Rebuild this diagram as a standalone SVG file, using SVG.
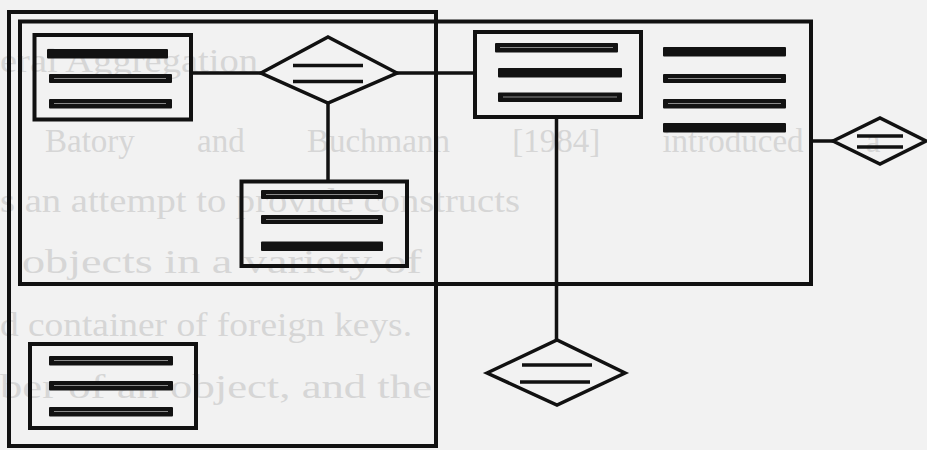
<svg xmlns="http://www.w3.org/2000/svg" width="927" height="450" viewBox="0 0 927 450">
<style>
.frame{fill:none;stroke:#111;stroke-width:4}
.box{fill:none;stroke:#111;stroke-width:4}
.dia{fill:none;stroke:#111;stroke-width:3.5;stroke-linejoin:miter}
.conn{fill:none;stroke:#111;stroke-width:3.5}
.bar{fill:#121212}
.streak{fill:none;stroke:#8a8a8a;stroke-width:1}
.dl{stroke:#111;stroke-width:3.5}
.ghost{font-family:"Liberation Serif","Times New Roman",serif;font-size:33px;fill:#d6d6d6}
</style>
<rect x="0" y="0" width="927" height="450" fill="#f2f2f2"/>
<g id="ghost-text">
<text class="ghost" x="0" y="72" textLength="258" lengthAdjust="spacingAndGlyphs">eral Aggregation</text>
<text class="ghost" x="45" y="152" word-spacing="54">Batory and Buchmann [1984] introduced a</text>
<text class="ghost" x="0" y="212" textLength="520" lengthAdjust="spacingAndGlyphs">s an attempt to provide constructs</text>
<text class="ghost" x="22" y="273" textLength="400" lengthAdjust="spacingAndGlyphs">objects in a variety of</text>
<text class="ghost" x="0" y="336" textLength="412" lengthAdjust="spacingAndGlyphs">d container of foreign keys.</text>
<text class="ghost" x="0" y="398" textLength="432" lengthAdjust="spacingAndGlyphs">ber of an object, and the</text>
</g>
<g id="frames">
<rect class="frame" x="9" y="12" width="427" height="434"/>
<rect class="frame" x="20" y="21.5" width="791" height="262.5"/>
</g>
<g id="connectors">
<line class="conn" x1="191" y1="73" x2="261" y2="73"/>
<line class="conn" x1="397" y1="73" x2="475" y2="73"/>
<line class="conn" x1="328" y1="103" x2="328" y2="181.5"/>
<line class="conn" x1="811" y1="141" x2="833" y2="141"/>
<line class="conn" x1="556.5" y1="117" x2="556.5" y2="340"/>
</g>
<g id="entity1">
<rect class="box" x="34.5" y="35" width="156.5" height="84.5"/>
<rect class="bar" x="47" y="49" width="121" height="9.5" rx="1"/>
<rect class="bar" x="49" y="74" width="123" height="9" rx="1"/>
<line class="streak" x1="54" y1="78.5" x2="166" y2="78.5"/>
<rect class="bar" x="49" y="99" width="123" height="9.5" rx="1"/>
<line class="streak" x1="54" y1="103.5" x2="166" y2="103.5"/>
</g>
<g id="relationship1">
<polygon class="dia" points="261,73 328,37 397,73 328,103"/>
<line class="dl" x1="293" y1="65.5" x2="363" y2="65.5"/>
<line class="dl" x1="293" y1="81.5" x2="363" y2="81.5"/>
</g>
<g id="entity2">
<rect class="box" x="475" y="32" width="166" height="85"/>
<rect class="bar" x="495" y="43" width="123" height="9.5" rx="1"/>
<line class="streak" x1="500" y1="47.5" x2="613" y2="47.5"/>
<rect class="bar" x="498" y="68" width="124" height="9.5" rx="1"/>
<rect class="bar" x="498" y="92.5" width="124" height="9.5" rx="1"/>
<line class="streak" x1="503" y1="97" x2="617" y2="97"/>
</g>
<g id="attributes">
<rect class="bar" x="663" y="47" width="123" height="9.5" rx="1"/>
<rect class="bar" x="663" y="74" width="123" height="9" rx="1"/>
<line class="streak" x1="668" y1="78.5" x2="781" y2="78.5"/>
<rect class="bar" x="663" y="99" width="123" height="9.5" rx="1"/>
<line class="streak" x1="668" y1="103.5" x2="781" y2="103.5"/>
<rect class="bar" x="663" y="123" width="123" height="9.5" rx="1"/>
</g>
<g id="entity3">
<rect class="box" x="241.5" y="181.5" width="165.5" height="84.5"/>
<rect class="bar" x="261" y="190" width="122" height="9" rx="1"/>
<line class="streak" x1="266" y1="194.5" x2="378" y2="194.5"/>
<rect class="bar" x="261" y="215" width="122" height="9" rx="1"/>
<line class="streak" x1="266" y1="219.5" x2="378" y2="219.5"/>
<rect class="bar" x="261" y="241.5" width="122" height="9.5" rx="1"/>
</g>
<g id="relationship2">
<polygon class="dia" points="833,141 880,118 926,141 880,164"/>
<line class="dl" x1="857" y1="136" x2="903" y2="136"/>
<line class="dl" x1="857" y1="147" x2="903" y2="147"/>
</g>
<g id="relationship3">
<polygon class="dia" points="487,373 557,340 625,373 557,405"/>
<line class="dl" x1="522" y1="365" x2="592" y2="365"/>
<line class="dl" x1="520" y1="382" x2="590" y2="382"/>
</g>
<g id="entity4">
<rect class="box" x="30" y="344" width="166" height="84"/>
<rect class="bar" x="49" y="356" width="124" height="9.5" rx="1"/>
<line class="streak" x1="54" y1="360.5" x2="168" y2="360.5"/>
<rect class="bar" x="49" y="381" width="124" height="9.5" rx="1"/>
<line class="streak" x1="54" y1="385.5" x2="168" y2="385.5"/>
<rect class="bar" x="49" y="407" width="124" height="9.5" rx="1"/>
<line class="streak" x1="54" y1="411.5" x2="168" y2="411.5"/>
</g>
</svg>
